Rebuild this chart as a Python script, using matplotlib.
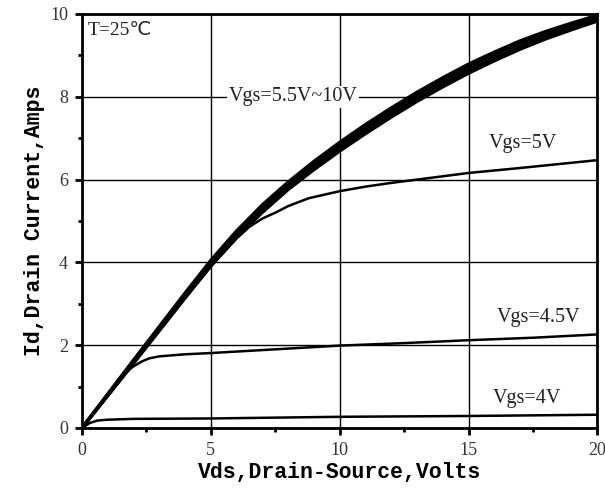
import matplotlib
matplotlib.use("Agg")
import matplotlib.pyplot as plt
from matplotlib.ticker import MultipleLocator

# Data (Vgs = 5.5V ... 10V bundle, nearly overlapping)
vds_main = [0, 1, 2, 3, 4, 5, 6, 7, 8, 9, 10, 11, 12, 13, 14, 15, 16, 17, 18, 19, 20]
id_vgs55 = [0, 0.78, 1.56, 2.35, 3.14, 3.91, 4.60, 5.21, 5.76, 6.24, 6.69, 7.11, 7.51, 7.89, 8.24, 8.57, 8.87, 9.15, 9.40, 9.62, 9.83]
id_vgs6 = [0, 0.79, 1.58, 2.38, 3.18, 3.95, 4.65, 5.27, 5.82, 6.30, 6.76, 7.18, 7.58, 7.96, 8.31, 8.64, 8.94, 9.21, 9.46, 9.68, 9.88]
id_vgs7 = [0, 0.81, 1.62, 2.42, 3.22, 4.01, 4.71, 5.33, 5.88, 6.38, 6.84, 7.26, 7.66, 8.04, 8.39, 8.72, 9.02, 9.29, 9.53, 9.74, 9.93]
id_vgs10 = [0, 0.82, 1.64, 2.45, 3.26, 4.05, 4.76, 5.39, 5.94, 6.44, 6.90, 7.33, 7.73, 8.11, 8.46, 8.79, 9.08, 9.35, 9.58, 9.78, 9.97]

vds_5 = [0, 1, 2, 3, 4, 5, 6, 6.5, 7, 7.5, 8, 8.8, 10, 11, 12, 13, 15, 17, 20]
id_5 = [0, 0.78, 1.56, 2.35, 3.14, 3.91, 4.58, 4.86, 5.06, 5.2, 5.36, 5.55, 5.72, 5.83, 5.92, 6.0, 6.16, 6.28, 6.47]

vds_45 = [0, 1, 1.7, 1.95, 2.3, 2.6, 3, 4, 5, 7.5, 10, 12.5, 15, 17.5, 20]
id_45 = [0, 0.78, 1.33, 1.47, 1.6, 1.68, 1.73, 1.78, 1.81, 1.9, 1.99, 2.05, 2.12, 2.18, 2.26]

vds_4 = [0, 0.3, 0.6, 1.0, 2, 5, 10, 15, 20]
id_4 = [0, 0.12, 0.18, 0.2, 0.22, 0.23, 0.27, 0.29, 0.32]

x_ticks = [0, 5, 10, 15, 20]
y_ticks = [0, 2, 4, 6, 8, 10]

serif = ['Liberation Serif', 'DejaVu Sans']
mono = ['Liberation Mono', 'DejaVu Sans Mono']

fig = plt.figure(figsize=(6.05, 4.98), dpi=100)
ax = fig.add_axes([0.1355, 0.1406, 0.852, 0.8313])

for ys in (id_vgs55, id_vgs6, id_vgs7, id_vgs10):
    ax.plot(vds_main, ys, color='black', lw=2.4, zorder=3, solid_joinstyle='round')
ax.plot(vds_5, id_5, color='black', lw=1.8, zorder=3, solid_joinstyle='round')
ax.plot(vds_45, id_45, color='black', lw=1.8, zorder=3, solid_joinstyle='round')
ax.plot(vds_4, id_4, color='black', lw=1.8, zorder=3, solid_joinstyle='round')

ax.set_xlim(0, 20)
ax.set_ylim(0, 10)
ax.set_xticks(x_ticks)
ax.set_yticks(y_ticks)
ax.xaxis.set_minor_locator(MultipleLocator(2.5))
ax.yaxis.set_minor_locator(MultipleLocator(1))
ax.grid(True, which='major', color='black', lw=1.0, zorder=1)
ax.tick_params(which='major', direction='out', length=5, width=2, labelsize=13, pad=5)
ax.tick_params(which='minor', direction='out', length=3, width=2)
for lab in ax.get_xticklabels() + ax.get_yticklabels():
    lab.set_family(serif)
    lab.set_color('#333333')
for sp in ax.spines.values():
    sp.set_linewidth(2)

ax.set_xlabel('Vds,Drain-Source,Volts', family=mono, fontweight='bold', fontsize=15.5, labelpad=2)
ax.set_ylabel('Id,Drain Current,Amps', family=mono, fontweight='bold', fontsize=15.5, labelpad=4)

ax.text(0.23, 9.61, 'T=25℃', family=serif, fontsize=14, ha='left', va='center', color='#222222')
ax.text(8.2, 8.0, 'Vgs=5.5V~10V', family=serif, fontsize=14.5, ha='center', va='center', color='#222222',
        bbox=dict(facecolor='white', edgecolor='none', pad=1), zorder=2)
ax.text(17.1, 6.88, 'Vgs=5V', family=serif, fontsize=14.5, ha='center', va='center', color='#222222')
ax.text(17.7, 2.68, 'Vgs=4.5V', family=serif, fontsize=14.5, ha='center', va='center', color='#222222')
ax.text(17.25, 0.72, 'Vgs=4V', family=serif, fontsize=14.5, ha='center', va='center', color='#222222')

fig.savefig('out.png', dpi=100)
